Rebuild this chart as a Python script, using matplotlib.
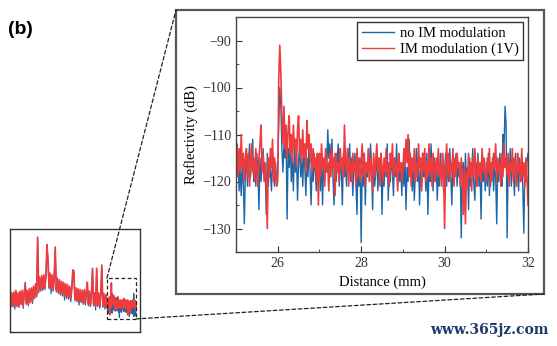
import numpy as np
import matplotlib
matplotlib.use("Agg")
import matplotlib.pyplot as plt
from matplotlib.patches import Rectangle
from matplotlib.patches import ConnectionPatch
from matplotlib.ticker import MultipleLocator

# datos del zoom (25 a 32 mm, paso 0.025 mm, una fila = 1 mm)
distancia = np.linspace(25, 32, 281)
sin_im = [
    -113, -119, -115, -122, -117, -123, -116, -120, -129, -118, -114, -121, -116, -112, -119, -115, -111, -120, -117, -121,
    -114, -118, -126, -115, -120, -116, -113, -119, -117, -127, -114, -121, -116, -118, -122, -114, -119, -121, -116, -120,
    -118, -108, -100, -104, -113, -118, -112, -115, -110, -128, -113, -117, -111, -120, -115, -122, -113, -118, -114, -124,
    -116, -112, -119, -115, -121, -113, -117, -123, -115, -119, -112, -118, -125, -116, -120, -114, -118, -122, -115, -119,
    -117, -122, -114, -125, -116, -120, -113, -118, -109, -115, -112, -117, -111, -119, -125, -114, -120, -116, -112, -121,
    -115, -118, -125, -114, -119, -116, -121, -113, -118, -112, -120, -115, -123, -117, -114, -120, -127, -116, -121, -115,
    -133, -117, -121, -114, -125, -116, -119, -113, -120, -112, -117, -126, -115, -121, -118, -113, -122, -116, -120, -114,
    -127, -117, -121, -115, -119, -112, -124, -116, -120, -114, -118, -123, -115, -119, -112, -121, -116, -120, -117, -123,
    -116, -121, -114, -126, -117, -120, -111, -118, -115, -122, -116, -124, -118, -113, -120, -115, -125, -117, -121, -114,
    -119, -116, -122, -114, -127, -118, -120, -112, -117, -122, -115, -120, -116, -124, -118, -121, -114, -119, -116, -122,
    -118, -114, -121, -116, -120, -113, -119, -125, -115, -120, -117, -114, -121, -116, -119, -117, -132, -118, -116, -123,
    -114, -120, -117, -126, -115, -121, -118, -113, -120, -124, -116, -119, -114, -121, -117, -128, -115, -120, -117, -122,
    -116, -121, -114, -123, -117, -120, -115, -122, -117, -119, -129, -116, -120, -114, -118, -121, -110, -113, -104, -108,
    -132, -115, -119, -113, -121, -116, -118, -123, -114, -120, -117, -122, -115, -119, -116, -121, -131, -117, -120, -116,
    -114]
con_im = [
    -116, -112, -119, -113, -118, -110, -117, -114, -120, -115, -113, -119, -114, -121, -116, -112, -118, -115, -120, -113,
    -117, -121, -115, -112, -108, -118, -114, -120, -116, -121, -130, -115, -119, -113, -117, -111, -120, -115, -118, -121,
    -120, -98, -91, -97, -106, -112, -104, -113, -108, -115, -109, -106, -114, -110, -116, -108, -113, -111, -117, -109,
    -106, -114, -111, -116, -109, -115, -112, -118, -107, -113, -110, -116, -112, -118, -113, -117, -115, -120, -114, -125,
    -114, -119, -112, -117, -115, -121, -113, -118, -116, -122, -114, -119, -113, -117, -115, -123, -114, -118, -116, -120,
    -113, -117, -115, -119, -108, -116, -118, -113, -121, -115, -117, -120, -114, -118, -116, -121, -113, -119, -115, -120,
    -116, -112, -119, -114, -121, -116, -118, -113, -120, -115, -117, -122, -114, -119, -116, -112, -118, -115, -121, -114,
    -117, -120, -115, -118, -113, -119, -116, -121, -114, -117, -112, -119, -115, -118, -116, -122, -114, -118, -116, -120,
    -118, -113, -117, -111, -116, -110, -119, -114, -121, -115, -118, -113, -120, -116, -119, -112, -117, -115, -122, -114,
    -118, -113, -120, -116, -119, -112, -118, -115, -121, -114, -117, -120, -115, -118, -113, -119, -116, -121, -114, -117,
    -130, -117, -112, -119, -114, -120, -116, -118, -113, -121, -115, -119, -114, -117, -116, -121, -115, -119, -127, -117,
    -129, -118, -121, -114, -119, -116, -122, -115, -119, -113, -118, -121, -115, -119, -116, -120, -113, -118, -115, -119,
    -120, -115, -118, -113, -121, -116, -119, -114, -117, -112, -120, -115, -118, -116, -121, -114, -119, -112, -117, -115,
    -119, -114, -121, -116, -118, -113, -120, -115, -117, -121, -114, -118, -116, -120, -113, -119, -116, -121, -115, -119,
    -125]

# resto de la traza completa (1.5 a 24.75 mm, paso 0.25 mm)
dist_lejos = np.linspace(1.5, 24.75, 94)
sin_im_lejos = [
    -104, -121, -106, -119, -105, -123, -103, -118, -106, -121, -104, -117, -103, -122, -105, -90, -116, -103, -119, -101,
    -114, -100, -116, -98, -109, -96, -108, -38, -103, -87, -101, -85, -100, -84, -99, -83, -47, -66, -98, -82,
    -104, -84, -101, -85, -50, -102, -88, -104, -90, -106, -92, -107, -93, -112, -95, -110, -96, -111, -98, -114,
    -99, -78, -79, -113, -100, -114, -101, -118, -102, -115, -103, -117, -102, -118, -104, -93, -119, -104, -120, -105,
    -76, -119, -106, -124, -76, -120, -106, -122, -107, -72, -121, -107, -123, -108]
con_im_lejos = [
    -101, -119, -103, -120, -102, -118, -100, -120, -103, -119, -101, -117, -100, -119, -102, -93, -117, -100, -117, -98,
    -115, -97, -113, -95, -110, -92, -106, -35, -100, -84, -99, -82, -98, -81, -97, -80, -44, -62, -96, -79,
    -98, -81, -99, -82, -47, -100, -85, -102, -87, -104, -89, -105, -90, -107, -92, -108, -93, -109, -95, -110,
    -96, -75, -76, -111, -97, -112, -98, -114, -99, -113, -100, -115, -99, -116, -101, -90, -117, -101, -118, -102,
    -73, -117, -103, -119, -73, -118, -103, -120, -104, -69, -119, -104, -121, -105]

azul = "#1b67a7"
rojo = "#ee3b3d"

plt.rcParams["font.family"] = ["Liberation Serif", "DejaVu Serif"]

fig = plt.figure(figsize=(5.57, 3.46), dpi=100)

# marco gris alrededor del zoom
fx0, fy0 = 176 / 557, 1 - 294 / 346
fw, fh = 368 / 557, 284 / 346
marco = Rectangle((fx0, fy0), fw, fh, transform=fig.transFigure, fill=False,
                  edgecolor="#555555", linewidth=1.6, zorder=0)
fig.patches.append(marco)

# panel principal
ax = fig.add_axes([236 / 557, 1 - 252 / 346, 292 / 557, 235 / 346])
ax.plot(distancia, sin_im, color=azul, lw=1.0, label="no IM modulation")
ax.plot(distancia, con_im, color=rojo, lw=1.2, label="IM modulation (1V)")
ax.set_xlim(25, 32)
ax.set_ylim(-135, -85)
ax.xaxis.set_major_locator(MultipleLocator(2))
ax.xaxis.set_minor_locator(MultipleLocator(1))
ax.yaxis.set_major_locator(MultipleLocator(10))
ax.yaxis.set_minor_locator(MultipleLocator(5))
ax.tick_params(which="both", direction="in", labelsize=10, colors="#333333")
ax.tick_params(which="major", length=4)
ax.tick_params(which="minor", length=2)
for s in ax.spines.values():
    s.set_color("#444444")
    s.set_linewidth(1.0)
ax.set_xlabel("Distance (mm)", fontsize=10.5, labelpad=4)
ax.set_ylabel("Reflectivity (dB)", fontsize=10.5, labelpad=3)
leg = ax.legend(loc="upper right", fontsize=10.5, fancybox=False, framealpha=1,
                edgecolor="#333333", borderaxespad=0.35, handlelength=2.2,
                handletextpad=0.4, borderpad=0.3, labelspacing=0.2)
leg.get_frame().set_linewidth(1.0)
for h in leg.get_lines():
    h.set_linewidth(1.0)

# panel pequeno con la traza completa
ax2 = fig.add_axes([10 / 557, 1 - 332 / 346, 130 / 557, 103 / 346])
x_todo = np.concatenate([dist_lejos, distancia])
ax2.plot(x_todo, sin_im_lejos + sin_im, color=azul, lw=0.9)
ax2.plot(x_todo, con_im_lejos + con_im, color=rojo, lw=1.2)
ax2.set_xlim(1.57, 32.97)
ax2.set_ylim(-151, -25)
ax2.set_xticks([])
ax2.set_yticks([])
for s in ax2.spines.values():
    s.set_color("#333333")
    s.set_linewidth(1.0)
caja = Rectangle((25, -135), 7, 50, fill=False, edgecolor="#222222",
                 linestyle=(0, (3, 2)), linewidth=0.9, zorder=5)
ax2.add_patch(caja)

# lineas punteadas hacia el marco
l1 = ConnectionPatch(xyA=(25, -85), coordsA=ax2.transData,
                     xyB=(fx0, fy0 + fh), coordsB=fig.transFigure,
                     linestyle=(0, (3, 2)), color="#222222", lw=0.9)
l2 = ConnectionPatch(xyA=(32, -135), coordsA=ax2.transData,
                     xyB=(fx0 + fw, fy0), coordsB=fig.transFigure,
                     linestyle=(0, (3, 2)), color="#222222", lw=0.9)
fig.add_artist(l1)
fig.add_artist(l2)

fig.text(0.014, 0.916, "(b)", fontsize=14, fontweight="bold",
         family="Liberation Sans", va="center", ha="left")
fig.text(0.985, 0.046, "www.365jz.com", fontsize=10, fontweight="bold",
         family="DejaVu Serif", color="#1c3a6e", va="center", ha="right")

fig.savefig("out.png", dpi=100)
